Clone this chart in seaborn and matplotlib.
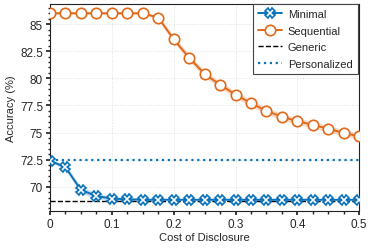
import matplotlib

matplotlib.use("Agg")
import matplotlib.pyplot as plt
import numpy as np
import pandas as pd
import seaborn as sns
from matplotlib.ticker import MultipleLocator

# cost of disclosure sweep, 0 to 0.5 in steps of 0.025
cost = [0.0, 0.025, 0.05, 0.075, 0.1, 0.125, 0.15, 0.175, 0.2, 0.225, 0.25,
        0.275, 0.3, 0.325, 0.35, 0.375, 0.4, 0.425, 0.45, 0.475, 0.5]
minimal = [72.4, 71.8, 69.7, 69.15, 68.9, 68.85, 68.8, 68.8, 68.8, 68.8, 68.8,
           68.8, 68.8, 68.8, 68.8, 68.8, 68.8, 68.8, 68.8, 68.8, 68.8]
minimal_err = [0.15, 0.2, 0.3, 0.25, 0.2, 0.15, 0.12, 0.1, 0.1, 0.1, 0.1,
               0.1, 0.1, 0.1, 0.1, 0.1, 0.1, 0.1, 0.1, 0.1, 0.1]
sequential = [86.0, 86.0, 86.0, 86.0, 86.0, 86.0, 86.0, 85.6, 83.6, 81.9, 80.4,
              79.4, 78.5, 77.7, 77.0, 76.45, 76.05, 75.7, 75.35, 74.95, 74.65]
sequential_err = [0.1, 0.1, 0.1, 0.1, 0.1, 0.1, 0.1, 0.2, 0.3, 0.3, 0.3,
                  0.3, 0.3, 0.3, 0.3, 0.3, 0.3, 0.3, 0.3, 0.3, 0.3]
generic = 68.72
personalized = 72.42

BLUE = "#0a72b8"
ORANGE = "#e0691a"

sns.set_theme(style="ticks")
plt.rcParams.update(
    {
        "font.family": ["Liberation Sans", "DejaVu Sans"],
        "font.size": 8,
        "axes.labelsize": 8,
        "xtick.labelsize": 8.5,
        "ytick.labelsize": 8.5,
        "legend.fontsize": 8,
        "axes.edgecolor": "#222222",
        "axes.linewidth": 0.8,
        "xtick.major.size": 3,
        "ytick.major.size": 3,
        "xtick.minor.size": 1.8,
        "ytick.minor.size": 1.8,
        "xtick.minor.visible": True,
        "ytick.minor.visible": True,
    }
)

df = pd.DataFrame({"cost": cost, "Minimal": minimal, "Sequential": sequential})

fig = plt.figure(figsize=(3.73, 2.51), dpi=100)
ax = fig.add_axes([0.134, 0.157, 0.829, 0.823])

ax.grid(True, which="major", color="#e0e0e0", linestyle=":", linewidth=0.7)

lo = np.array(minimal) - np.array(minimal_err)
hi = np.array(minimal) + np.array(minimal_err)
ax.fill_between(cost, lo, hi, color=BLUE, alpha=0.25, linewidth=0)
lo = np.array(sequential) - np.array(sequential_err)
hi = np.array(sequential) + np.array(sequential_err)
ax.fill_between(cost, lo, hi, color=ORANGE, alpha=0.25, linewidth=0)

sns.lineplot(data=df, x="cost", y="Minimal", ax=ax, color=BLUE, linewidth=1.4,
             marker="X", markersize=7, markerfacecolor="white",
             markeredgecolor=BLUE, markeredgewidth=1.2, label="Minimal", zorder=4)
sns.lineplot(data=df, x="cost", y="Sequential", ax=ax, color=ORANGE, linewidth=1.4,
             marker="o", markersize=7.5, markerfacecolor="white",
             markeredgecolor=ORANGE, markeredgewidth=1.2, label="Sequential", zorder=4)
ax.axhline(generic, color="black", linestyle="--", linewidth=1.0, label="Generic", zorder=3)
ax.axhline(personalized, color=BLUE, linestyle=":", linewidth=1.6, label="Personalized", zorder=3)

ax.set_xlim(0, 0.5)
ax.set_ylim(67.8, 86.85)
ax.xaxis.set_major_locator(MultipleLocator(0.1))
ax.xaxis.set_minor_locator(MultipleLocator(0.025))
ax.yaxis.set_major_locator(MultipleLocator(2.5))
ax.yaxis.set_minor_locator(MultipleLocator(0.5))
ax.set_xticks([0, 0.1, 0.2, 0.3, 0.4, 0.5], ["0", "0.1", "0.2", "0.3", "0.4", "0.5"])
ax.set_yticks([70, 72.5, 75, 77.5, 80, 82.5, 85], ["70", "72.5", "75", "77.5", "80", "82.5", "85"])
ax.tick_params(which="both", top=False, right=False, direction="out", color="#222222", pad=2)
for side in ("top", "right"):
    ax.spines[side].set_visible(True)

ax.set_xlabel("Cost of Disclosure", labelpad=2)
ax.set_ylabel("Accuracy (%)", labelpad=3)

leg = ax.legend(loc="upper right", bbox_to_anchor=(0.995, 1.0), borderaxespad=0,
                frameon=True, fancybox=False, edgecolor="#444444", framealpha=1,
                handlelength=2.2, handletextpad=0.5, borderpad=0.45, labelspacing=0.6)
leg.get_frame().set_linewidth(0.8)

fig.savefig("out.png", dpi=100)
